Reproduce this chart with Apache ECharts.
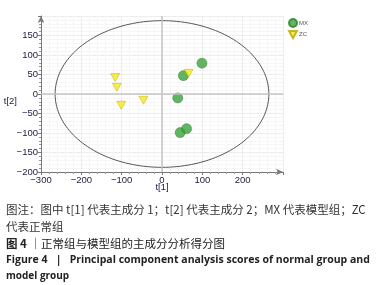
<!DOCTYPE html>
<html><head><meta charset="utf-8">
<script src="https://cdn.jsdelivr.net/npm/echarts@6/dist/echarts.min.js"></script>
<style>html,body{margin:0;padding:0;background:#fff}#c{width:379px;height:285px}</style>
</head><body><div id="c"></div>
<script>
// Data
const mxPoints = [[99, 79], [53, 47], [39, -10], [45, -99], [61, -89]];
const zcPoints = [[-116, 42], [-112, 17], [-101, -29], [-46, -16], [66, 53]];
const seriesNames = ['MX', 'ZC'];
const xTicks = [-300, -200, -100, 0, 100, 200];
const yTicks = [-200, -150, -100, -50, 0, 50, 100, 150];
const ellipseSemiAxes = [265, 188]; // Hotelling T2 ellipse radii
const captionLines = [
  '图注：图中 t[1] 代表主成分 1；t[2] 代表主成分 2；MX 代表模型组；ZC',
  '代表正常组'
];
const figTitleCn = ['图 4 ', '｜正常组与模型组的主成分分析得分图'];
const figTitleEn = ['Figure 4   |   Principal component analysis scores of normal group and', 'model group'];

const ellipse = [];
for (let i = 0; i <= 180; i++) {
  const t = i / 180 * 2 * Math.PI;
  ellipse.push([ellipseSemiAxes[0] * Math.cos(t), ellipseSemiAxes[1] * Math.sin(t)]);
}
const minus = v => String(v).replace('-', '\u2212');
const chart = echarts.init(document.getElementById('c'));
const tickFont = {fontFamily: 'Liberation Sans', fontSize: 9.5, color: '#1c1c3c'};
chart.setOption({
  animation: false,
  grid: {left: 41, right: 96, top: 16, bottom: 113, containLabel: false, outerBoundsMode: 'none'},
  legend: {
    right: 66, top: 13, orient: 'vertical', itemGap: 2, itemWidth: 8, itemHeight: 8,
    textStyle: {fontSize: 6, color: '#555', fontFamily: 'Liberation Sans', padding: [0,0,0,-3]},
    data: seriesNames
  },
  xAxis: {
    type: 'value', min: -300, max: 300, interval: 100,
    name: 't[1]', nameLocation: 'middle', nameGap: 10, nameMoveOverlap: false,
    nameTextStyle: {fontFamily: 'Liberation Sans', fontSize: 9.5, color: '#1c1c3c', verticalAlign: 'top'},
    axisLine: {show: true, onZero: false, lineStyle: {color: '#777'}, symbol: ['none', 'arrow'], symbolSize: [5, 7]},
    axisTick: {show: true, length: 3, lineStyle: {color: '#777'}},
    minorTick: {show: true, splitNumber: 5, length: 2, lineStyle: {color: '#999'}},
    axisLabel: Object.assign({margin: 3, formatter: v => xTicks.includes(v) ? minus(v) : ''}, tickFont),
    splitLine: {show: true, lineStyle: {color: '#ececec'}},
    minorSplitLine: {show: true, lineStyle: {color: '#f6f6f6'}}
  },
  yAxis: {
    type: 'value', min: -200, max: 200, interval: 50,
    name: 't[2]', nameLocation: 'middle', nameGap: 24, nameRotate: 0, nameMoveOverlap: false,
    nameTextStyle: {fontFamily: 'Liberation Sans', fontSize: 9.5, color: '#1c1c3c', verticalAlign: 'top', align: 'right', padding: [2, 0, 0, 0]},
    axisLine: {show: true, onZero: false, lineStyle: {color: '#777'}, symbol: ['none', 'arrow'], symbolSize: [5, 7]},
    axisTick: {show: true, length: 3, lineStyle: {color: '#777'}},
    minorTick: {show: true, splitNumber: 5, length: 2, lineStyle: {color: '#999'}},
    axisLabel: Object.assign({margin: 3, formatter: v => yTicks.includes(v) ? minus(v) : ''}, tickFont),
    splitLine: {show: true, lineStyle: {color: '#ececec'}},
    minorSplitLine: {show: true, lineStyle: {color: '#f6f6f6'}}
  },
  series: [
    {
      type: 'line', data: ellipse, showSymbol: false, silent: true, smooth: false,
      lineStyle: {color: '#555', width: 1}, z: 1,
      markLine: {
        silent: true, symbol: 'none', label: {show: false},
        lineStyle: {color: '#c4c4c4', width: 1.5, type: 'solid'},
        data: [{xAxis: 0}, {yAxis: 0}]
      }
    },
    {
      name: 'MX', type: 'scatter', data: mxPoints, symbol: 'circle', symbolSize: 10, z: 3,
      itemStyle: {color: '#3ba33b', borderColor: '#2a7f2a', borderWidth: 0.6}
    },
    {
      name: 'ZC', type: 'scatter', data: zcPoints, symbol: 'path://M0,0 L10,0 L5,9 Z', symbolSize: [9, 8], z: 4,
      itemStyle: {color: '#f7e81c', borderColor: '#b8a800', borderWidth: 0.6}
    }
  ],
  graphic: [
    {type: 'text', left: 6, top: 204, style: {text: captionLines[0], font: '11.5px "Noto Sans CJK SC"', fill: '#333'}},
    {type: 'text', left: 6, top: 221, style: {text: captionLines[1], font: '11.5px "Noto Sans CJK SC"', fill: '#333'}},
    {type: 'text', left: 6, top: 238, style: {
      text: '{b|' + figTitleCn[0] + '}{n|' + figTitleCn[1] + '}',
      rich: {b: {font: 'bold 11.5px "Noto Sans CJK SC"', fill: '#222'}, n: {font: '11.5px "Noto Sans CJK SC"', fill: '#222'}}
    }},
    {type: 'text', left: 6, top: 255, style: {text: figTitleEn[0], font: 'bold 10.5px "Open Sans"', fill: '#222'}},
    {type: 'text', left: 6, top: 271, style: {text: figTitleEn[1], font: 'bold 10px "Open Sans"', fill: '#222'}}
  ]
});
</script></body></html>
